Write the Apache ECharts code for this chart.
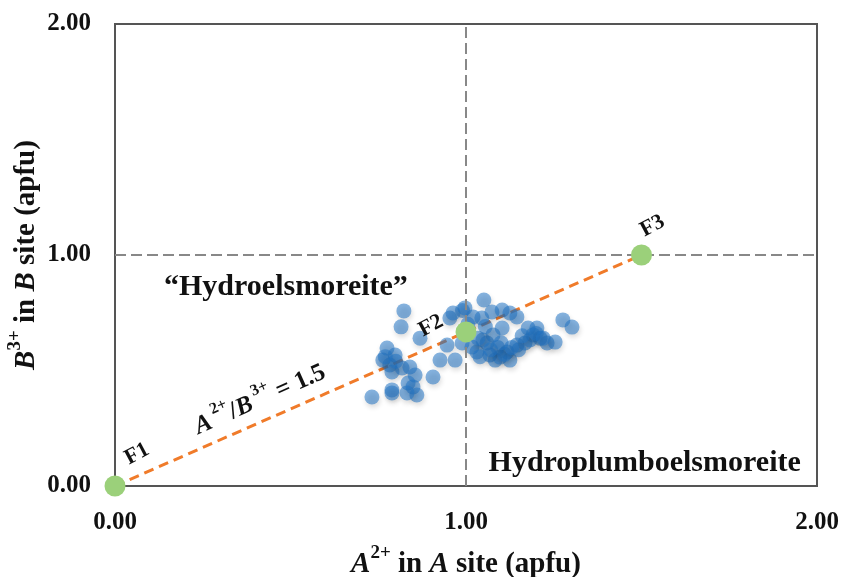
<!DOCTYPE html>
<html>
<head>
<meta charset="utf-8">
<script src="https://cdn.jsdelivr.net/npm/echarts@6/dist/echarts.min.js"></script>
<style>
  html, body { margin: 0; padding: 0; background: #fff; }
  #chart { width: 843px; height: 577px; }
</style>
</head>
<body>
<div id="chart"></div>
<script>
// Axis ticks
const xTicks = [0, 1, 2];
const yTicks = [0, 1, 2];

// Analysed compositions: A2+ in A site vs B3+ in B site (apfu)
const sampleA = [
  0.823, 0.815, 0.954, 0.990, 0.869, 0.946, 0.969, 0.926, 0.775, 0.798,
  0.763, 0.783, 0.789, 0.818, 0.840, 0.855, 0.906, 0.835, 0.849, 0.860,
  0.789, 0.789, 0.732, 0.832, 0.770, 0.800,
  1.051, 0.963, 0.997, 1.020, 1.045, 1.074, 1.103, 1.125, 1.145, 0.989,
  1.017, 1.031, 1.060, 1.077, 1.103, 1.068, 1.083, 1.097, 1.117, 1.125,
  1.145, 1.168, 1.177, 1.202, 1.191, 1.211, 1.182, 1.231, 1.254, 1.276,
  1.302, 1.048, 1.034, 1.090, 1.110, 1.150, 1.160, 1.070, 1.100, 1.040,
  1.200, 1.220, 1.130, 1.005, 1.055
];
const sampleB = [
  0.758, 0.689, 0.727, 0.760, 0.640, 0.610, 0.545, 0.545, 0.597, 0.567,
  0.545, 0.524, 0.494, 0.511, 0.515, 0.480, 0.472, 0.446, 0.429, 0.394,
  0.416, 0.403, 0.385, 0.403, 0.560, 0.540,
  0.805, 0.749, 0.771, 0.732, 0.727, 0.753, 0.762, 0.749, 0.732, 0.619,
  0.602, 0.580, 0.619, 0.654, 0.684, 0.567, 0.545, 0.558, 0.580, 0.545,
  0.610, 0.619, 0.684, 0.684, 0.654, 0.640, 0.632, 0.619, 0.623, 0.719,
  0.688, 0.632, 0.640, 0.600, 0.570, 0.590, 0.650, 0.590, 0.620, 0.560,
  0.660, 0.640, 0.600, 0.700, 0.690
];

// End-member points along A2+/B3+ = 1.5
const endNames = ['F1', 'F2', 'F3'];
const endA = [0, 1, 1.5];
const endB = [0, 0.667, 1];

// Field annotations
const fieldNames = ['“Hydroelsmoreite”', 'Hydroplumboelsmoreite'];
const fieldA = [0.487, 1.509];
const fieldB = [0.862, 0.097];

const ratioLabelA = 0.41;
const ratioLabelB = 0.385;

const serif = '"Liberation Serif", "Times New Roman", serif';
const ink = '#111';

// screen-space shifts of the F labels from their points, and their tilt
const endLabelShift = [[22, -32], [-35, -6], [11, -29]];
const endLabelRotate = 28;

// label offsets are applied in the label's rotated frame
function toLocal([dx, dy], deg) {
  const t = deg * Math.PI / 180;
  return [dx * Math.cos(t) - dy * Math.sin(t), dx * Math.sin(t) + dy * Math.cos(t)];
}

const chart = echarts.init(document.getElementById('chart'));

const scatterData = sampleA.map((a, i) => [a, sampleB[i]]);
const endData = endA.map((a, i) => ({
  value: [a, endB[i]],
  label: { offset: toLocal(endLabelShift[i], endLabelRotate) }
}));
const fieldData = fieldA.map((a, i) => ({ value: [a, fieldB[i]], name: fieldNames[i] }));

function nameRich(size, supSize) {
  return {
    i: { fontFamily: serif, fontWeight: 'bold', fontStyle: 'italic', fontSize: size, color: ink, lineHeight: size + 6, verticalAlign: 'bottom' },
    n: { fontFamily: serif, fontWeight: 'bold', fontSize: size, color: ink, lineHeight: size + 6, verticalAlign: 'bottom' },
    sup: { fontFamily: serif, fontWeight: 'bold', fontSize: supSize, color: ink, lineHeight: size + 6, verticalAlign: 'top', padding: [0, 0, Math.round(size * 0.4), 0] }
  };
}

chart.setOption({
  animation: false,
  grid: {
    left: 115, right: 26, top: 24, bottom: 91,
    containLabel: false, outerBoundsMode: 'none',
    show: true, borderColor: '#555', borderWidth: 2
  },
  xAxis: {
    type: 'value', min: 0, max: 2, interval: 1,
    splitLine: { show: false },
    axisTick: { show: false },
    axisLine: { show: true, lineStyle: { color: '#555', width: 2 } },
    axisLabel: {
      margin: 24, color: ink, fontFamily: serif, fontWeight: 'bold', fontSize: 25,
      formatter: v => xTicks.includes(v) ? v.toFixed(2) : ''
    },
    name: '{i|A}{sup|2+}{n| in }{i|A}{n| site (apfu)}',
    nameLocation: 'middle', nameGap: 58, nameMoveOverlap: false,
    nameTextStyle: { rich: nameRich(29, 19) }
  },
  yAxis: {
    type: 'value', min: 0, max: 2, interval: 1,
    splitLine: { show: false },
    axisTick: { show: false },
    axisLine: { show: true, lineStyle: { color: '#555', width: 2 } },
    axisLabel: {
      margin: 24, color: ink, fontFamily: serif, fontWeight: 'bold', fontSize: 25,
      formatter: v => yTicks.includes(v) ? v.toFixed(2) : ''
    },
    name: '{i|B}{sup|3+}{n| in }{i|B}{n| site (apfu)}',
    nameLocation: 'middle', nameGap: 74, nameRotate: 90, nameMoveOverlap: false,
    nameTextStyle: { rich: nameRich(29, 19) }
  },
  series: [
    {
      // reference lines at A = 1 and B = 1
      type: 'line', data: [], silent: true,
      markLine: {
        symbol: 'none', silent: true, label: { show: false },
        lineStyle: { color: '#888', type: [11, 5], width: 2 },
        data: [{ xAxis: 1 }, { yAxis: 1 }]
      }
    },
    {
      // A2+/B3+ = 1.5 trend line
      type: 'line', data: [[endA[0], endB[0]], [endA[2], endB[2]]],
      symbol: 'none', silent: true,
      lineStyle: { color: '#F07B2A', width: 3, type: [10, 6] }, z: 3
    },
    {
      type: 'scatter', data: scatterData, symbolSize: 15, z: 4,
      itemStyle: {
        color: 'rgba(34,116,196,0.55)', opacity: 1,
        shadowBlur: 5, shadowColor: 'rgba(0,0,0,0.25)', shadowOffsetX: 1, shadowOffsetY: 3
      }
    },
    {
      type: 'scatter', data: endData, symbolSize: 21, z: 5,
      itemStyle: { color: '#9BD07A', opacity: 1 },
      label: {
        show: true, position: 'inside', rotate: endLabelRotate,
        formatter: p => endNames[p.dataIndex],
        fontFamily: serif, fontWeight: 'bold', fontSize: 22, color: ink,
        textBorderWidth: 0
      }
    },
    {
      type: 'scatter', data: fieldData, symbolSize: 0, z: 6, silent: true,
      itemStyle: { color: 'transparent', opacity: 1 },
      label: {
        show: true, position: 'inside', formatter: p => p.name,
        fontFamily: serif, fontWeight: 'bold', fontSize: 30, color: ink,
        textBorderWidth: 0
      }
    },
    {
      type: 'scatter', data: [[ratioLabelA, ratioLabelB]], symbolSize: 0, z: 6, silent: true,
      itemStyle: { color: 'transparent', opacity: 1 },
      label: {
        show: true, position: 'inside', rotate: 24, textBorderWidth: 0,
        formatter: '{i|A}{sup| 2+}{n|/}{i|B}{sup| 3+}{n| = 1.5}',
        rich: nameRich(25, 16)
      }
    }
  ]
});
</script>
</body>
</html>
